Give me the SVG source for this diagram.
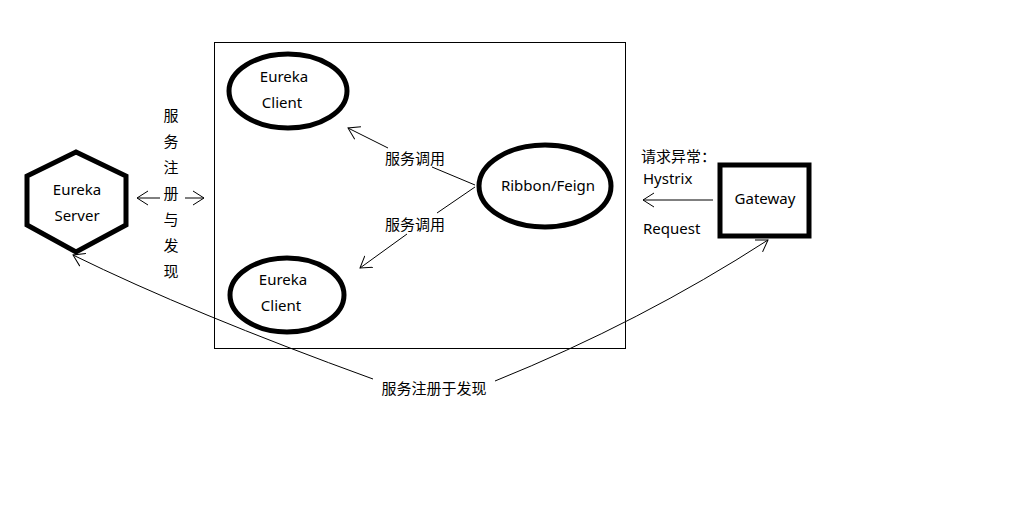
<svg xmlns="http://www.w3.org/2000/svg" width="1028" height="517" viewBox="0 0 1028 517">
<style>
text{font-family:"Noto Sans","Noto Sans CJK SC",sans-serif;font-size:15px;fill:#000;text-anchor:middle;dominant-baseline:central}
.l{text-anchor:start}
.thick{fill:#fff;stroke:#000;stroke-width:5}
.c{fill:none;stroke:#000;stroke-width:1}
</style>
<defs>
<marker id="a" markerUnits="userSpaceOnUse" markerWidth="14" markerHeight="16" refX="11" refY="7" orient="auto" viewBox="0 0 14 14">
<path d="M0 0 L11 7 L0 14" fill="none" stroke="#000" stroke-width="1"/>
</marker>
</defs>
<rect width="1028" height="517" fill="#fff"/>
<g id="container"><rect x="214.5" y="42.5" width="411" height="306" fill="none" stroke="#000" stroke-width="1"/></g>
<g id="eureka-server">
<polygon class="thick" points="76,152 126,176 126,225 76,252 27,225 27,176" stroke-width="6"/>
<text x="77" y="189">Eureka</text>
<text x="77" y="215">Server</text>
</g>
<g id="client-top">
<ellipse class="thick" cx="288" cy="91" rx="59" ry="37"/>
<text x="284" y="76">Eureka</text>
<text x="282" y="102">Client</text>
</g>
<g id="client-bottom">
<ellipse class="thick" cx="287" cy="295" rx="57" ry="37"/>
<text x="283" y="279">Eureka</text>
<text x="281" y="305">Client</text>
</g>
<g id="ribbon">
<ellipse class="thick" cx="545" cy="186" rx="66" ry="41"/>
<text x="548" y="185">Ribbon/Feign</text>
</g>
<g id="gateway">
<rect class="thick" x="720" y="165" width="89" height="71" stroke-width="6"/>
<text x="765" y="198">Gateway</text>
</g>
<g id="connectors">
<path class="c" d="M160 198 L137 198" marker-end="url(#a)"/>
<path class="c" d="M185 198 L204 198" marker-end="url(#a)"/>
<path class="c" d="M388 148 L348 128" marker-end="url(#a)"/>
<path class="c" d="M432 167 L475 185"/>
<path class="c" d="M475 187 L437 213"/>
<path class="c" d="M407 234 L360 268" marker-end="url(#a)"/>
<path class="c" d="M713 200 L643 200" marker-end="url(#a)"/>
<path class="c" d="M373 379 Q191 313 73 255" marker-end="url(#a)"/>
<path class="c" d="M495 381 Q641 322 768 240" marker-end="url(#a)"/>
</g>
<g id="labels">
<text x="171" y="115">服</text>
<text x="171" y="141">务</text>
<text x="171" y="167">注</text>
<text x="171" y="193">册</text>
<text x="171" y="219">与</text>
<text x="171" y="245">发</text>
<text x="171" y="271">现</text>
<text x="415" y="158">服务调用</text>
<text x="415" y="224">服务调用</text>
<text class="l" x="641" y="156">请求异常：</text>
<text class="l" x="643" y="178">Hystrix</text>
<text class="l" x="643" y="228">Request</text>
<text x="434" y="388">服务注册于发现</text>
</g>
</svg>
